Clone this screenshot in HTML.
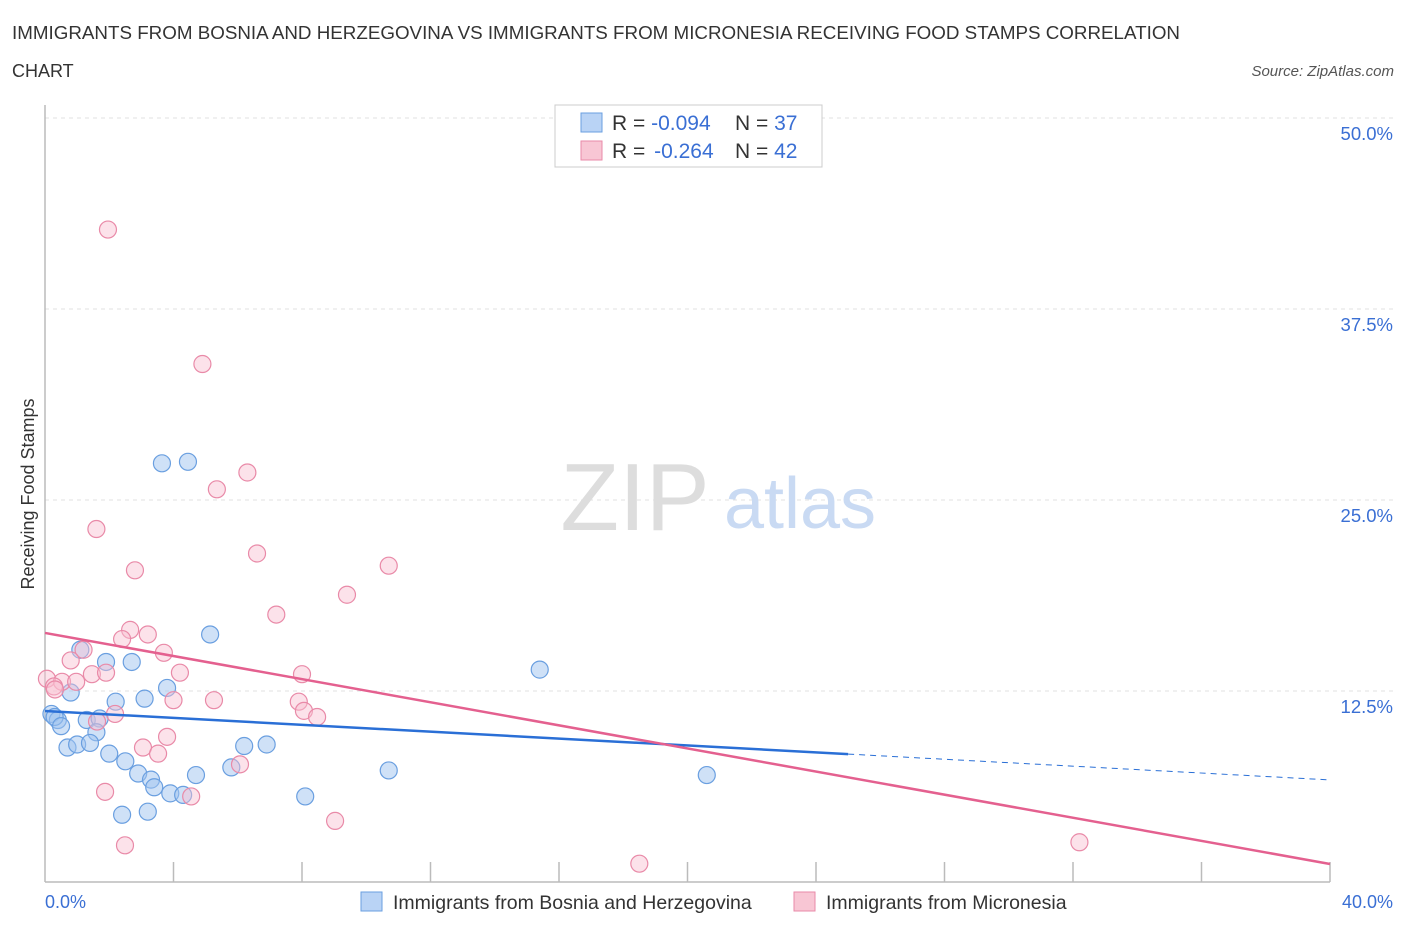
<!DOCTYPE html>
<html><head><meta charset="utf-8">
<style>
body{margin:0;background:#fff;font-family:"Liberation Sans",sans-serif;}
svg text{font-family:"Liberation Sans",sans-serif;}
</style></head>
<body>
<svg id="chart" width="1406" height="930" xmlns="http://www.w3.org/2000/svg">
<text x="12" y="39" font-size="18" fill="#333" textLength="1168" lengthAdjust="spacingAndGlyphs">IMMIGRANTS FROM BOSNIA AND HERZEGOVINA VS IMMIGRANTS FROM MICRONESIA RECEIVING FOOD STAMPS CORRELATION</text>
<text x="12" y="77" font-size="18" fill="#333">CHART</text>
<text x="1394" y="76" font-size="15" fill="#555" font-style="italic" text-anchor="end">Source: ZipAtlas.com</text>
<g id="grid"></g>
<line x1="45" y1="105" x2="45" y2="882" stroke="#bbb" stroke-width="1.5"/>
<line x1="45" y1="882" x2="1330" y2="882" stroke="#bbb" stroke-width="1.5"/>
<text x="635" y="530" font-size="96" fill="#ddd" font-family="Liberation Serif" text-anchor="middle">ZIP</text>
<text x="800" y="528" font-size="72" fill="#c9daf3" text-anchor="middle">atlas</text>
<text transform="translate(34,494) rotate(-90)" font-size="18" fill="#333" text-anchor="middle">Receiving Food Stamps</text>
<g id="marks"></g>
<g>
<rect x="555" y="105" width="267" height="62" fill="#fff" stroke="#ccc"/>
<rect x="581" y="113" width="21" height="19" fill="#b9d3f5" stroke="#6a9fe0"/>
<rect x="581" y="141" width="21" height="19" fill="#f8c6d4" stroke="#e98aa8"/>
<text x="612" y="130" font-size="21" fill="#333">R = <tspan fill="#3a6fd4">-0.094</tspan><tspan x="735">N = </tspan><tspan fill="#3a6fd4">37</tspan></text>
<text x="612" y="158" font-size="21" fill="#333">R = <tspan fill="#3a6fd4" dx="3">-0.264</tspan><tspan x="735">N = </tspan><tspan fill="#3a6fd4">42</tspan></text>
</g>
<text x="45" y="908" font-size="18" fill="#3a6fd4">0.0%</text>
<text x="1393" y="908" font-size="18" fill="#3a6fd4" text-anchor="end">40.0%</text>
<g>
<rect x="361" y="892" width="21" height="19" fill="#b9d3f5" stroke="#6a9fe0"/>
<text x="393" y="909" font-size="19.5" fill="#333">Immigrants from Bosnia and Herzegovina</text>
<rect x="794" y="892" width="21" height="19" fill="#f8c6d4" stroke="#e98aa8"/>
<text x="826" y="909" font-size="19.5" fill="#333">Immigrants from Micronesia</text>
</g>
</svg>
<script>
const yTicks=[12.5,25,37.5,50];
const xTickVals=[4,8,12,16,20,24,28,32,36,40];
const bosniaX=[3.64,4.45,5.14,15.4,1.1,1.9,2.7,2.2,3.1,3.8,0.8,0.2,0.4,0.3,0.5,1.3,1.7,1.6,0.7,1.0,1.4,2.0,2.5,2.9,3.3,3.4,3.9,4.3,4.7,5.8,6.2,6.9,8.1,10.7,20.6,2.4,3.2];
const bosniaY=[27.4,27.5,16.2,13.9,15.2,14.4,14.4,11.8,12.0,12.7,12.4,11.0,10.6,10.8,10.2,10.6,10.7,9.8,8.8,9.0,9.1,8.4,7.9,7.1,6.7,6.2,5.8,5.7,7.0,7.5,8.9,9.0,5.6,7.3,7.0,4.4,4.6];
const microX=[1.96,4.9,6.3,5.35,1.6,6.6,2.8,10.7,9.4,7.2,2.65,3.2,2.4,3.7,1.2,0.8,4.2,1.46,1.9,8.0,0.06,0.53,0.97,0.28,7.9,4.0,5.26,8.06,8.47,2.18,1.62,3.8,3.05,3.52,6.07,1.87,4.55,9.03,2.49,18.5,32.2,0.31];
const microY=[42.7,33.9,26.8,25.7,23.1,21.5,20.4,20.7,18.8,17.5,16.5,16.2,15.9,15.0,15.2,14.5,13.7,13.6,13.7,13.6,13.3,13.1,13.1,12.8,11.8,11.9,11.9,11.2,10.8,11.0,10.5,9.5,8.8,8.4,7.7,5.9,5.6,4.0,2.4,1.2,2.6,12.6];
const bosniaLine=[11.19,6.68];
const microLine=[16.30,1.18];
const bosniaSolidEnd=25.0;
const NS="http://www.w3.org/2000/svg";
const X=v=>45+v/40*1285, Y=v=>882-v/50*764;
const grid=document.getElementById('grid'), marks=document.getElementById('marks');
function mk(tag,attrs,parent){const e=document.createElementNS(NS,tag);for(const k in attrs)e.setAttribute(k,attrs[k]);parent.appendChild(e);return e;}
yTicks.forEach(t=>{
 const l=mk('line',{x1:45,x2:1395,y1:Y(t),y2:Y(t),stroke:'#e2e2e2','stroke-dasharray':'4,4'},grid);
 
 
 const tx=mk('text',{x:1393,y:Y(t)+22,'font-size':18.5,fill:'#3a6fd4','text-anchor':'end'},grid);
 tx.textContent=t.toFixed(1)+'%';
 
 
});
xTickVals.forEach(t=>{
 const l=mk('line',{x1:X(t),x2:X(t),y1:862,y2:882,stroke:'#bbb','stroke-width':1.5},grid);
 
 
});
bosniaX.forEach((x,i)=>{
 const c=mk('circle',{cx:X(x),cy:Y(bosniaY[i]),r:8.5,fill:'rgba(160,196,240,0.5)',stroke:'#6a9fe0','stroke-width':1.2},marks);
 
 
});
microX.forEach((x,i)=>{
 const c=mk('circle',{cx:X(x),cy:Y(microY[i]),r:8.5,fill:'rgba(248,190,208,0.45)',stroke:'#e98aa8','stroke-width':1.2},marks);
 
 
});
const by=x=>bosniaLine[0]+(bosniaLine[1]-bosniaLine[0])*x/40;
let l1=mk('line',{x1:X(0),y1:Y(by(0)),x2:X(bosniaSolidEnd),y2:Y(by(bosniaSolidEnd)),stroke:'#2a6fd6','stroke-width':2.5},marks);


let l2=mk('line',{x1:X(bosniaSolidEnd),y1:Y(by(bosniaSolidEnd)),x2:X(40),y2:Y(by(40)),stroke:'#2a6fd6','stroke-width':1,'stroke-dasharray':'6,5'},marks);


let l3=mk('line',{x1:X(0),y1:Y(microLine[0]),x2:X(40),y2:Y(microLine[1]),stroke:'#e4608f','stroke-width':2.5},marks);


</script>
</body></html>
